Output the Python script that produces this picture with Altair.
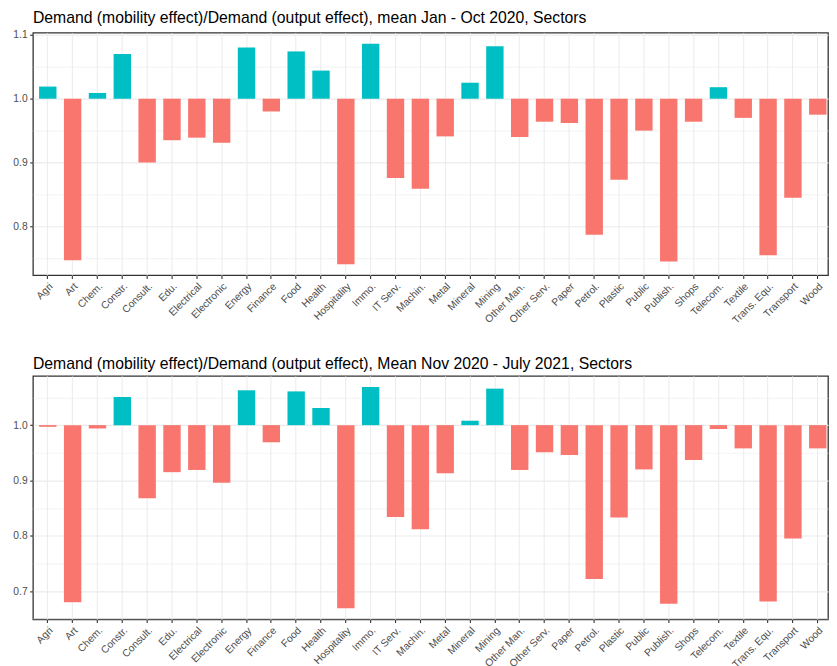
import altair as alt
import numpy as np
import pandas as pd

sectors = ["Agri", "Art", "Chem.", "Constr.", "Consult.", "Edu.", "Electrical", "Electronic",
           "Energy", "Finance", "Food", "Health", "Hospitality", "Immo.", "IT Serv.", "Machin.",
           "Metal", "Mineral", "Mining", "Other Man.", "Other Serv.", "Paper", "Petrol.", "Plastic",
           "Public", "Publish.", "Shops", "Telecom.", "Textile", "Trans. Equ.", "Transport", "Wood"]

ratio_jan_oct_2020 = [1.019, 0.747, 1.009, 1.070, 0.900, 0.935, 0.939, 0.931,
                      1.080, 0.980, 1.074, 1.044, 0.741, 1.086, 0.876, 0.859,
                      0.941, 1.025, 1.082, 0.940, 0.964, 0.962, 0.787, 0.873,
                      0.950, 0.745, 0.964, 1.018, 0.970, 0.755, 0.845, 0.975]

ratio_nov2020_jul2021 = [0.997, 0.680, 0.994, 1.051, 0.868, 0.915, 0.919, 0.896,
                         1.063, 0.969, 1.061, 1.031, 0.669, 1.069, 0.834, 0.812,
                         0.913, 1.008, 1.066, 0.919, 0.951, 0.946, 0.722, 0.833,
                         0.920, 0.677, 0.937, 0.993, 0.958, 0.681, 0.795, 0.958]

titles = ["Demand (mobility effect)/Demand (output effect), mean Jan - Oct 2020, Sectors",
          "Demand (mobility effect)/Demand (output effect), Mean Nov 2020 - July 2021, Sectors"]

RED = "#F8766D"
TEAL = "#00BFC4"
FONT = "Liberation Sans"

major_test = "abs(datum.value*10 - round(datum.value*10)) < 0.001"


def panel(values, title, height, x_extent):
    df = pd.DataFrame({"sector": sectors, "value": values})
    df["sign"] = np.where(df["value"] >= 1.0, "pos", "neg")
    lo = min(df["value"].min(), 1.0)
    hi = max(df["value"].max(), 1.0)
    pad = 0.05 * (hi - lo)
    dom = [lo - pad, hi + pad]
    ticks = [round(v, 2) for v in np.arange(0.5, 1.3, 0.05) if dom[0] <= v <= dom[1]]
    return alt.Chart(df).mark_bar().encode(
        x=alt.X("sector:N", sort=sectors, title=None,
                scale=alt.Scale(paddingInner=0.3, paddingOuter=0.155, align=0.8),
                axis=alt.Axis(labelAngle=-45, labelAlign="right", labelBaseline="top",
                              bandPosition=0.5, minExtent=x_extent, maxExtent=x_extent)),
        y=alt.Y("value:Q", title=None,
                scale=alt.Scale(domain=dom, nice=False, zero=False),
                axis=alt.Axis(values=ticks, minExtent=24, maxExtent=24,
                              labelExpr=f"{major_test} ? format(datum.value, '.1f') : ''",
                              tickOpacity={"condition": {"test": major_test, "value": 1}, "value": 0},
                              gridWidth={"condition": {"test": major_test, "value": 1.2}, "value": 0.6})),
        y2=alt.datum(1.0),
        color=alt.Color("sign:N", scale=alt.Scale(domain=["neg", "pos"], range=[RED, TEAL]), legend=None),
    ).properties(
        width=797, height=height,
        title=alt.TitleParams(title, anchor="start", frame="group", fontSize=15.8,
                              font=FONT, fontWeight="normal", color="#000000",
                              baseline="bottom", offset=-12),
    )


chart = alt.vconcat(
    panel(ratio_jan_oct_2020, titles[0], 243, 45),
    panel(ratio_nov2020_jul2021, titles[1], 244, 40),
    spacing=28,
).properties(
    padding={"left": 0, "top": 0, "right": 0, "bottom": 0},
).configure_view(
    stroke="#333333", strokeWidth=1.3,
).configure_axis(
    domain=False, grid=True, gridColor="#EBEBEB", tickColor="#333333", tickSize=3.3,
    tickWidth=1.1, labelColor="#4D4D4D", labelFont=FONT, labelFontSize=10.3, labelPadding=2.5,
)

chart.save("out.html", embed_options={"renderer": "svg", "actions": False})
